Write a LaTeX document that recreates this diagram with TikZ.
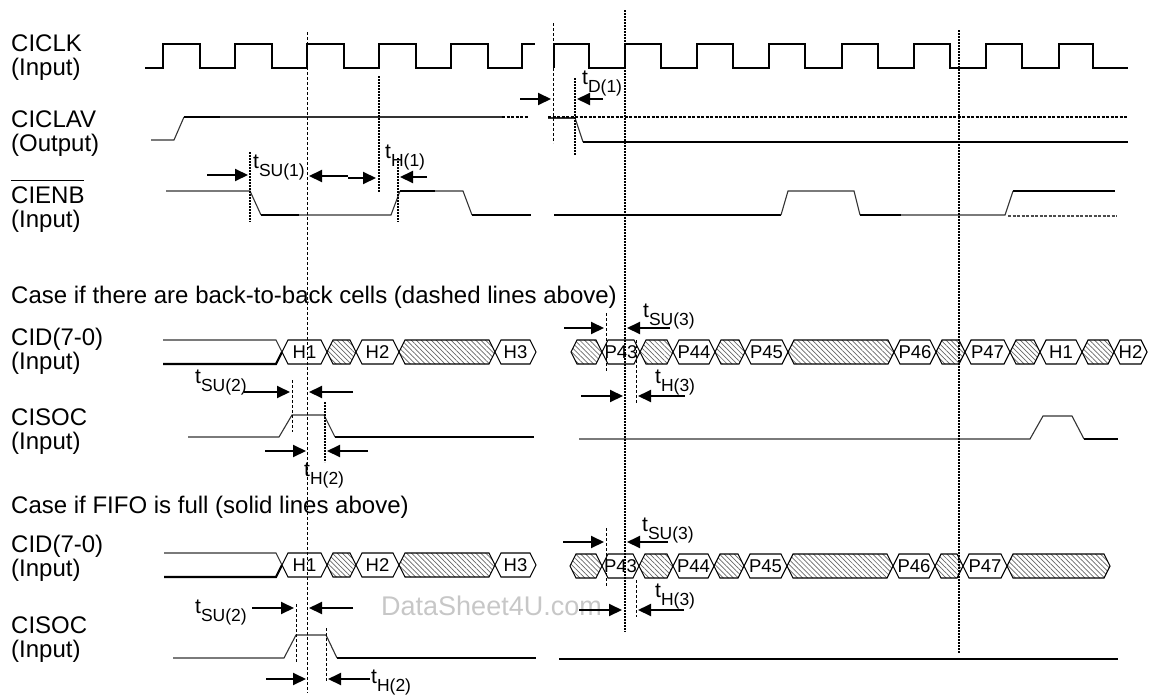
\documentclass[tikz,border=0pt]{standalone}
\usepackage{fontspec}
\setmainfont{Liberation Sans}
\usetikzlibrary{arrows.meta,patterns.meta}
\newcommand\tsub[1]{t\raisebox{-8pt}{\fontsize{17.5}{17.5}\selectfont #1}}
\newcommand\hexseg[5]{% name, x1, x2, ymid, label
  \draw[hexbox] (#2,#4) -- ({#2+6},{#4-12}) -- ({#3-6},{#4-12}) -- (#3,#4) -- ({#3-6},{#4+12}) -- ({#2+6},{#4+12}) -- cycle;
  \node[buslbl] (#1) at ({(#2+#3)/2},#4) {#5};}
\newcommand\hatchseg[3]{% x1, x2, ymid
  \draw[hatchbox] (#1,#3) -- ({#1+6},{#3-12}) -- ({#2-6},{#3-12}) -- (#2,#3) -- ({#2-6},{#3+12}) -- ({#1+6},{#3+12}) -- cycle;}
\begin{document}
\begin{tikzpicture}[x=1pt,y=-1pt,
  thickw/.style={line width=2.2pt,line join=miter},
  thinw/.style={line width=1.1pt,black!80},
  hatchv/.style={line width=2.2pt,dash pattern=on 2pt off 1pt},
  hatchh/.style={line width=2.5pt,dash pattern=on 3pt off 1.5pt},
  dashv/.style={line width=0.8pt,dash pattern=on 3pt off 2pt},
  tarrow/.style={line width=2pt,-{Triangle[length=13pt,width=12pt]}},
  lbl/.style={anchor=base west,inner sep=0pt,font=\fontsize{24}{24}\selectfont},
  tlbl/.style={anchor=base west,inner sep=0pt,font=\fontsize{21}{24}\selectfont},
  buslbl/.style={inner sep=0pt,font=\fontsize{18.5}{18.5}\selectfont},
  hexbox/.style={draw,line width=1.1pt,fill=white},
  hatchbox/.style={draw,line width=1.1pt,pattern={Lines[angle=-45,distance=3.5pt,line width=0.7pt]},pattern color=black!60},
]
\useasboundingbox (0,0) rectangle (1149,696);

% ---------- signal labels ----------
\node[lbl] (l1a) at (11,51) {CICLK};
\node[lbl] (l1b) at (11,75) {(Input)};
\node[lbl] (l2a) at (11,127) {CICLAV};
\node[lbl] (l2b) at (11,151) {(Output)};
\node[lbl] (l3a) at (11,203) {CIENB};
\draw[line width=1.5pt] (11,180.5) -- (84,180.5);
\node[lbl] (l3b) at (11,227) {(Input)};
\node[lbl] (case1) at (11,303) {Case if there are back-to-back cells (dashed lines above)};
\node[lbl] (l4a) at (11,345) {CID(7-0)};
\node[lbl] (l4b) at (11,369) {(Input)};
\node[lbl] (l5a) at (11,425) {CISOC};
\node[lbl] (l5b) at (11,449) {(Input)};
\node[lbl] (case2) at (11,513) {Case if FIFO is full (solid lines above)};
\node[lbl] (l6a) at (11,552) {CID(7-0)};
\node[lbl] (l6b) at (11,576) {(Input)};
\node[lbl] (l7a) at (11,633) {CISOC};
\node[lbl] (l7b) at (11,657) {(Input)};

% watermark
\node[anchor=base west,inner sep=0pt,font=\fontsize{27}{27}\selectfont,text=black!22] (wm) at (381,615) {DataSheet4U.com};

% ---------- CICLK ----------
\draw[thickw] (145,68) -- (163,68) -- (163,44) -- (200,44) -- (200,68) -- (235,68) -- (235,44) -- (272,44) -- (272,68) -- (307,68) -- (307,44) -- (344,44) -- (344,68) -- (379,68) -- (379,44) -- (416,44) -- (416,68) -- (451,68) -- (451,44) -- (488,44) -- (488,68) -- (522,68) -- (522,44) -- (535,44);
\draw[thickw] (554,68) -- (554,44) -- (589,44) -- (589,68) -- (625,68) -- (625,44) -- (661,44) -- (661,68) -- (697,68) -- (697,44) -- (733,44) -- (733,68) -- (769,68) -- (769,44) -- (805,44) -- (805,68) -- (842,68) -- (842,44) -- (878,44) -- (878,68) -- (914,68) -- (914,44) -- (950,44) -- (950,68) -- (986,68) -- (986,44) -- (1022,44) -- (1022,68) -- (1059,68) -- (1059,44) -- (1093,44) -- (1093,68) -- (1128,68);

% ---------- CICLAV ----------
\draw[thinw] (151,140) -- (174,140) -- (184,117);
\draw[thickw] (184,117) -- (220,117);
\draw[thinw] (220,117) -- (502,117);
\draw[hatchh] (502,117) -- (529,117);
\draw[thinw] (548,118) -- (575,118);
\draw[hatchh] (548,117) -- (1127,117);
\draw[thinw] (575,118) -- (583,142);
\draw[thickw] (583,142) -- (1128,142);

% ---------- CIENB ----------
\draw[thinw] (166,191) -- (250,191) -- (261,215);
\draw[thickw] (261,215) -- (299,215);
\draw[thinw] (299,215) -- (391,215) -- (400,191);
\draw[thickw] (400,191) -- (435,191);
\draw[thinw] (435,191) -- (463,191) -- (472,215);
\draw[thickw] (472,215) -- (531,215);
\draw[thickw] (554,215) -- (781,215);
\draw[thinw] (781,215) -- (788,191) -- (854,191) -- (860,215);
\draw[thickw] (860,215) -- (901,215);
\draw[thinw] (901,215) -- (1005,215) -- (1013,191);
\draw[thickw] (1013,191) -- (1115,191);
\draw[line width=1.3pt,black!70,dash pattern=on 3pt off 1.5pt] (1008,216) -- (1117,216);

% ---------- CID section 1 ----------
\draw[thinw] (163,340) -- (276,340) -- (282,352);
\draw[thickw] (163,364) -- (276,364) -- (282,352);
\hexseg{a1}{282}{327}{352}{H1}
\hatchseg{327}{356}{352}
\hexseg{a2}{356}{399}{352}{H2}
\hatchseg{399}{495}{352}
\hexseg{a3}{495}{536}{352}{H3}
\hatchseg{571}{602}{352}
\hexseg{b43}{602}{640}{352}{P43}
\hatchseg{640}{673}{352}
\hexseg{b44}{673}{715}{352}{P44}
\hatchseg{715}{745}{352}
\hexseg{b45}{745}{788}{352}{P45}
\hatchseg{788}{894}{352}
\hexseg{b46}{894}{936}{352}{P46}
\hatchseg{936}{965}{352}
\hexseg{b47}{965}{1010}{352}{P47}
\hatchseg{1010}{1040}{352}
\hexseg{bh1}{1040}{1082}{352}{H1}
\hatchseg{1082}{1114}{352}
\hexseg{bh2}{1114}{1147}{352}{H2}

% ---------- CISOC section 1 ----------
\draw[thinw] (188,437) -- (279,437) -- (292,415) -- (324,415) -- (335,437);
\draw[thickw] (335,437) -- (534,437);
\draw[thinw] (579,439) -- (1030,439) -- (1043,416) -- (1072,416) -- (1084,439);
\draw[thickw] (1084,439) -- (1118,439);

% ---------- CID section 2 ----------
\draw[thinw] (164,553) -- (276,553) -- (282,565);
\draw[thickw] (164,577) -- (276,577) -- (282,565);
\hexseg{c1}{282}{327}{565}{H1}
\hatchseg{327}{356}{565}
\hexseg{c2}{356}{399}{565}{H2}
\hatchseg{399}{495}{565}
\hexseg{c3}{495}{536}{565}{H3}
\hatchseg{570}{602}{566}
\hexseg{d43}{602}{639}{566}{P43}
\hatchseg{639}{673}{566}
\hexseg{d44}{673}{714}{566}{P44}
\hatchseg{714}{744}{566}
\hexseg{d45}{744}{787}{566}{P45}
\hatchseg{787}{893}{566}
\hexseg{d46}{893}{935}{566}{P46}
\hatchseg{935}{963}{566}
\hexseg{d47}{963}{1007}{566}{P47}
\hatchseg{1007}{1110}{566}

% ---------- CISOC section 2 ----------
\draw[thinw] (173,658) -- (284,658) -- (296,635) -- (326,635) -- (337,658);
\draw[thickw] (337,658) -- (536,658);
\draw[thickw] (559,659) -- (1118,659);

% ---------- vertical reference lines ----------
\draw[dashv] (307,32) -- (307,693);
\draw[dashv] (553,23) -- (553,143);
\draw[hatchv] (625,10) -- (625,632);
\draw[hatchv] (959,30) -- (959,653);
\draw[hatchv] (379,76) -- (379,192);
\draw[hatchv] (250,152) -- (250,222);
\draw[hatchv] (398,158) -- (398,222);
\draw[hatchv] (575,78) -- (575,155);
\draw[dashv] (292,380) -- (292,432);
\draw[hatchv] (325,402) -- (325,462);
\draw[dashv] (296,604) -- (296,663);
\draw[dashv] (326,628) -- (326,682);
\draw[dashv] (606,313) -- (606,372);
\draw[dashv] (636,340) -- (636,403);
\draw[dashv] (606,528) -- (606,587);
\draw[dashv] (636,580) -- (636,617);

% ---------- timing arrows ----------
\draw[tarrow] (207,175) -- (248,175);
\draw[tarrow] (348,176) -- (309,176);
\draw[tarrow] (348,178) -- (376,178);
\node[tlbl] (tsu1) at (253,168) {\tsub{SU(1)}};
\draw[tarrow] (427,177) -- (400,177);
\node[tlbl] (th1) at (385,158) {\tsub{H(1)}};
\draw[tarrow] (520,99) -- (551,99);
\draw[tarrow] (603,99) -- (577,99);
\node[tlbl] (td1) at (582,84) {\tsub{D(1)}};

\draw[tarrow] (564,328) -- (604,328);
\draw[tarrow] (670,328) -- (627,328);
\node[tlbl] (tsu3a) at (643,317) {\tsub{SU(3)}};
\draw[tarrow] (581,396) -- (623,396);
\draw[tarrow] (685,396) -- (638,396);
\node[tlbl] (th3a) at (655,383) {\tsub{H(3)}};
\draw[tarrow] (244,392) -- (290,392);
\draw[tarrow] (353,392) -- (309,392);
\node[tlbl] (tsu2a) at (195,383) {\tsub{SU(2)}};
\draw[tarrow] (265,451) -- (306,451);
\draw[tarrow] (368,451) -- (327,451);
\node[tlbl] (th2a) at (304,476) {\tsub{H(2)}};

\draw[tarrow] (563,542) -- (604,542);
\draw[tarrow] (668,542) -- (627,542);
\node[tlbl] (tsu3b) at (642,531) {\tsub{SU(3)}};
\draw[tarrow] (579,610) -- (622,610);
\draw[tarrow] (684,610) -- (638,610);
\node[tlbl] (th3b) at (655,597) {\tsub{H(3)}};
\draw[tarrow] (252,608) -- (294,608);
\draw[tarrow] (353,608) -- (309,608);
\node[tlbl] (tsu2b) at (195,613) {\tsub{SU(2)}};
\draw[tarrow] (266,679) -- (306,679);
\draw[tarrow] (370,679) -- (328,679);
\node[tlbl] (th2b) at (371,683) {\tsub{H(2)}};
\end{tikzpicture}
\end{document}
